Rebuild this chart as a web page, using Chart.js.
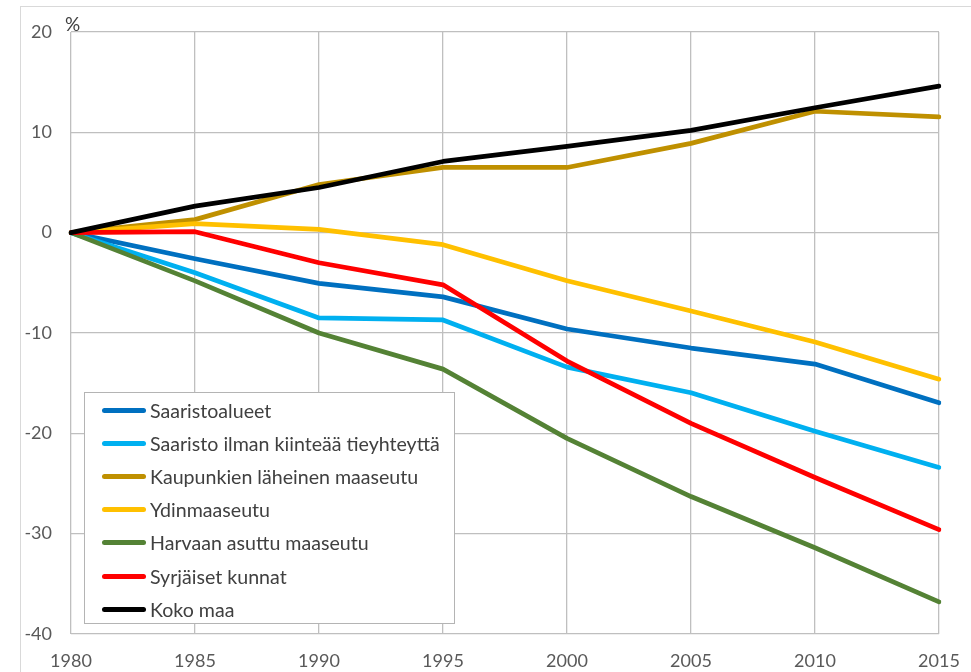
<!DOCTYPE html>
<html>
<head>
<meta charset="utf-8">
<script src="https://cdn.jsdelivr.net/npm/chart.js@4"></script>
<style>
    html, body { margin: 0; padding: 0; background: #fff; overflow: hidden; }
    #wrap { position: relative; width: 971px; height: 672px; }
    #frame { position: absolute; left: 20px; top: 6px; width: 980px; height: 700px; border: 1px solid #d9d9d9; box-sizing: border-box; }
    #pct { position: absolute; left: 65px; top: 12px; font: 19px Lato, sans-serif; color: #404040; }
    #legend { position: absolute; left: 84px; top: 392px; width: 371px; height: 232px; box-sizing: border-box;
              border: 1.3px solid #b4b4b4; background: #fff; }
    .item { position: absolute; left: 17px; height: 24px; display: flex; align-items: center;
            font: 19.6px Lato, sans-serif; color: #404040; white-space: nowrap; }
    .swatch { width: 44px; height: 5px; border-radius: 3px; margin-right: 4px; }
</style>
</head>
<body>
<div id="wrap">
    <div id="frame"></div>
    <canvas id="chart" width="971" height="672"></canvas>
    <div id="pct">%</div>
    <div id="legend"></div>
</div>
<script>
// years on the x axis
const years = ['1980', '1985', '1990', '1995', '2000', '2005', '2010', '2015'];

// population change since 1980, %
const saaristoalueet = [0, -2.6, -5.05, -6.4, -9.6, -11.5, -13.1, -16.95];
const saaristoIlman = [0, -4.0, -8.5, -8.7, -13.4, -15.95, -19.8, -23.4];
const kaupunkienLaheinen = [0, 1.3, 4.8, 6.5, 6.5, 8.9, 12.1, 11.55];
const ydinmaaseutu = [0, 0.9, 0.33, -1.2, -4.8, -7.8, -10.9, -14.6];
const harvaanAsuttu = [0, -4.8, -10.0, -13.6, -20.5, -26.3, -31.4, -36.8];
const syrjaisetKunnat = [0, 0.1, -3.0, -5.2, -12.8, -19.0, -24.4, -29.6];
const kokoMaa = [0, 2.65, 4.5, 7.1, 8.6, 10.2, 12.45, 14.6];

const seriesNames = [
    'Saaristoalueet',
    'Saaristo ilman kiinteää tieyhteyttä',
    'Kaupunkien läheinen maaseutu',
    'Ydinmaaseutu',
    'Harvaan asuttu maaseutu',
    'Syrjäiset kunnat',
    'Koko maa'
];
const seriesValues = [saaristoalueet, saaristoIlman, kaupunkienLaheinen, ydinmaaseutu, harvaanAsuttu, syrjaisetKunnat, kokoMaa];
const seriesColors = ['#0070C0', '#00B0F0', '#BF9000', '#FFC000', '#548235', '#FF0000', '#000000'];

const yTicks = [-40, -30, -20, -10, 0, 10, 20];

const datasets = seriesNames.map((name, i) => ({
    label: name,
    data: seriesValues[i],
    borderColor: seriesColors[i],
    backgroundColor: seriesColors[i],
    borderWidth: 4.7,
    pointRadius: 0,
    tension: 0,
    borderJoinStyle: 'round',
    borderCapStyle: 'round',
    order: seriesNames.length - i
}));

const tickFont = { family: 'Lato, sans-serif', size: 18 };

new Chart(document.getElementById('chart'), {
    type: 'line',
    data: { labels: years, datasets: datasets },
    options: {
        responsive: false,
        animation: false,
        layout: { padding: { left: 0, top: 32, right: 32, bottom: 0 } },
        plugins: { legend: { display: false }, tooltip: { enabled: false } },
        scales: {
            x: {
                type: 'category',
                offset: false,
                grid: { color: '#bfbfbf', lineWidth: 1.3, drawTicks: false },
                border: { display: false },
                ticks: { color: '#595959', font: tickFont, padding: 16, maxRotation: 0, autoSkip: false },
                afterFit: s => { s.height = 38; s.paddingLeft = 0; s.paddingRight = 0; }
            },
            y: {
                min: yTicks[0],
                max: yTicks[yTicks.length - 1],
                afterBuildTicks: s => { s.ticks = yTicks.map(v => ({ value: v })); },
                grid: { color: '#bfbfbf', lineWidth: 1.3, drawTicks: false },
                border: { display: false },
                ticks: { color: '#595959', font: tickFont, padding: 19 },
                afterFit: s => { s.width = 71; }
            }
        }
    }
});

// legend box inside the plot, as in the original
const legend = document.getElementById('legend');
seriesNames.forEach((name, i) => {
    const row = document.createElement('div');
    row.className = 'item';
    row.style.top = (5 + i * 33.2) + 'px';
    row.innerHTML = '<span class="swatch" style="background:' + seriesColors[i] + '"></span>' + name;
    legend.appendChild(row);
});
</script>
</body>
</html>
